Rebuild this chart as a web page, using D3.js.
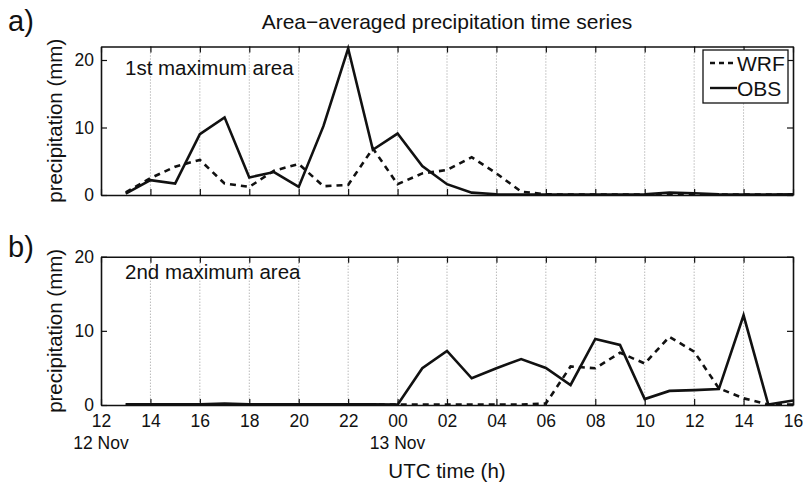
<!DOCTYPE html>
<html>
<head>
<meta charset="utf-8">
<script src="https://cdn.jsdelivr.net/npm/d3@7"></script>
<style>
  body { margin: 0; background: #fff; }
  svg text { font-family: "Liberation Sans", Arial, Helvetica, sans-serif; fill: #111; }
</style>
</head>
<body>
<svg id="chart" width="803" height="486"></svg>
<script>
// hours after 12 UTC 12 Nov (13 UTC 12 Nov .. 16 UTC 13 Nov)
const hours = [1, 2, 3, 4, 5, 6, 7, 8, 9, 10, 11, 12, 13, 14, 15, 16, 17, 18, 19, 20, 21, 22, 23, 24, 25, 26, 27, 28];
const tickHours = [0, 2, 4, 6, 8, 10, 12, 14, 16, 18, 20, 22, 24, 26, 28];
const tickLabels = ['12', '14', '16', '18', '20', '22', '00', '02', '04', '06', '08', '10', '12', '14', '16'];
const dayLabels = [{ h: 0, label: '12 Nov' }, { h: 12, label: '13 Nov' }];

// panel a) 1st maximum area
const wrfA = [0.4, 2.5, 4.2, 5.2, 1.7, 1.2, 3.6, 4.6, 1.3, 1.5, 6.9, 1.6, 3.2, 3.7, 5.6, 3.2, 0.5, 0.1, 0.05, 0.05, 0.05, 0.05, 0.05, 0.05, 0.05, 0.05, 0.05, 0.05];
const obsA = [0.2, 2.2, 1.7, 9.0, 11.5, 2.6, 3.4, 1.2, 10.2, 21.7, 6.7, 9.1, 4.3, 1.6, 0.35, 0.1, 0.05, 0.05, 0.05, 0.05, 0.05, 0.1, 0.35, 0.25, 0.1, 0.05, 0.05, 0.1];

// panel b) 2nd maximum area
const wrfB = [0.05, 0.05, 0.05, 0.05, 0.05, 0.05, 0.05, 0.05, 0.05, 0.05, 0.05, 0.05, 0.05, 0.05, 0.05, 0.05, 0.05, 0.2, 5.2, 4.95, 7.05, 5.6, 9.2, 7.2, 2.25, 0.9, 0.05, 0.05];
const obsB = [0.1, 0.1, 0.1, 0.1, 0.2, 0.1, 0.1, 0.1, 0.1, 0.1, 0.1, 0.05, 4.95, 7.3, 3.6, 4.95, 6.2, 5.0, 2.7, 8.9, 8.1, 0.8, 1.9, 2.0, 2.15, 12.1, 0.05, 0.6];

const yTicks = [0, 10, 20];

const svg = d3.select('#chart');
const left = 101, right = 793;

const x = d3.scaleLinear().domain([0, 28]).range([left, right]);

const panels = [
  { tag: 'a)', name: '1st maximum area', top: 46.5, bottom: 195, ymax: 22, wrf: wrfA, obs: obsA, tagY: 31, nameY: 75 },
  { tag: 'b)', name: '2nd maximum area', top: 256.7, bottom: 405, ymax: 20, wrf: wrfB, obs: obsB, tagY: 257, nameY: 279 }
];

panels.forEach((p, i) => {
  const y = d3.scaleLinear().domain([0, p.ymax]).range([p.bottom, p.top]);
  const g = svg.append('g');

  // dotted grid at every x tick
  g.selectAll('.grid')
    .data(tickHours.slice(1, -1))
    .enter()
    .append('line')
    .attr('x1', d => x(d)).attr('x2', d => x(d))
    .attr('y1', p.top).attr('y2', p.bottom)
    .attr('stroke', '#999')
    .attr('stroke-width', 1)
    .attr('stroke-dasharray', '1,2');

  const line = d3.line().x((d, j) => x(hours[j])).y(d => y(d));

  g.append('path')
    .datum(p.wrf)
    .attr('d', line)
    .attr('fill', 'none')
    .attr('stroke', '#111')
    .attr('stroke-width', 2.6)
    .attr('stroke-dasharray', '6,5');

  g.append('path')
    .datum(p.obs)
    .attr('d', line)
    .attr('fill', 'none')
    .attr('stroke', '#111')
    .attr('stroke-width', 2.6)
    .attr('stroke-linejoin', 'miter');

  // axes, ticks pointing inward
  const bottomAxis = d3.axisBottom(x).tickValues(tickHours).tickSize(-6).tickSizeOuter(0).tickPadding(10)
    .tickFormat((d, j) => i === 1 ? tickLabels[j] : '');
  const topAxis = d3.axisTop(x).tickValues(tickHours).tickSize(-6).tickSizeOuter(0).tickFormat('');
  const leftAxis = d3.axisLeft(y).tickValues(yTicks).tickSize(-6).tickSizeOuter(0).tickPadding(7);
  const rightAxis = d3.axisRight(y).tickValues(yTicks).tickSize(-6).tickSizeOuter(0).tickFormat('');

  const axes = [
    g.append('g').attr('transform', `translate(0,${p.bottom})`).call(bottomAxis),
    g.append('g').attr('transform', `translate(0,${p.top})`).call(topAxis),
    g.append('g').attr('transform', `translate(${left},0)`).call(leftAxis),
    g.append('g').attr('transform', `translate(${right},0)`).call(rightAxis)
  ];
  axes.forEach(a => {
    a.select('.domain').attr('stroke', '#111').attr('stroke-width', 1.6);
    a.selectAll('.tick line').attr('stroke', '#111').attr('stroke-width', 1.2);
    a.selectAll('.tick text').style('font-size', '17.5px').attr('fill', '#111');
  });

  g.append('text')
    .attr('x', 8).attr('y', p.tagY)
    .style('font-size', '29px')
    .text(p.tag);

  g.append('text')
    .attr('x', 125).attr('y', p.nameY)
    .style('font-size', '20.5px')
    .text(p.name);

  g.append('text')
    .attr('transform', `translate(62,${(p.top + p.bottom) / 2}) rotate(-90)`)
    .attr('text-anchor', 'middle')
    .style('font-size', '20.5px')
    .text('precipitation (mm)');
});

// title
svg.append('text')
  .attr('x', (left + right) / 2).attr('y', 29)
  .attr('text-anchor', 'middle')
  .style('font-size', '21px')
  .text('Area\u2212averaged precipitation time series');

// day labels and x-axis title
svg.selectAll('.day')
  .data(dayLabels)
  .enter()
  .append('text')
  .attr('x', d => x(d.h)).attr('y', 449)
  .attr('text-anchor', 'middle')
  .style('font-size', '17.5px')
  .text(d => d.label);

svg.append('text')
  .attr('x', (left + right) / 2).attr('y', 478)
  .attr('text-anchor', 'middle')
  .style('font-size', '20.5px')
  .text('UTC time (h)');

// legend
const legend = svg.append('g');
legend.append('rect')
  .attr('x', 703).attr('y', 50).attr('width', 85).attr('height', 53)
  .attr('fill', '#fff').attr('stroke', '#111').attr('stroke-width', 1.3);
const legendItems = [{ label: 'WRF', dash: '5,4', y: 63 }, { label: 'OBS', dash: null, y: 88 }];
legendItems.forEach(item => {
  legend.append('line')
    .attr('x1', 710).attr('x2', 737).attr('y1', item.y).attr('y2', item.y)
    .attr('stroke', '#111').attr('stroke-width', 2.4)
    .attr('stroke-dasharray', item.dash);
  legend.append('text')
    .attr('x', 737).attr('y', item.y + 8)
    .style('font-size', '21px')
    .text(item.label);
});
</script>
</body>
</html>
